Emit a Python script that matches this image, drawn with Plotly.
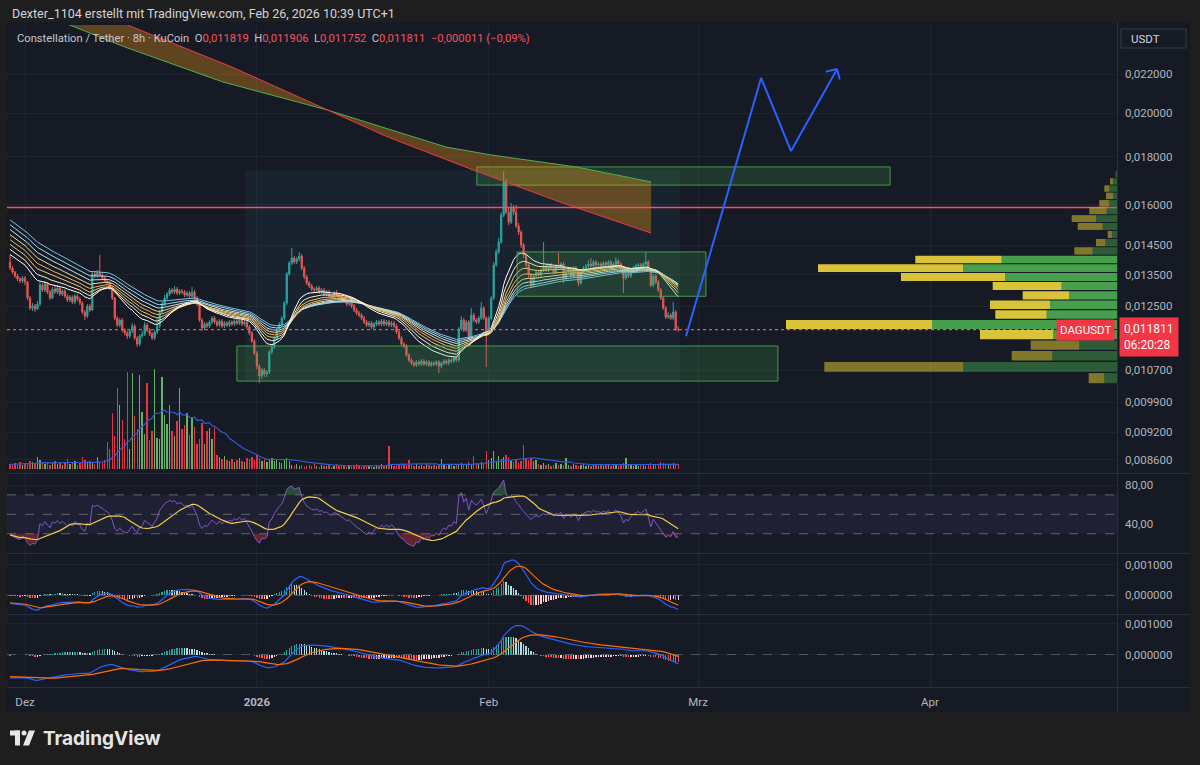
import math
import pandas as pd
import plotly.graph_objects as go

W, H = 1200, 765

# ------------------------------------------------------------------ data
candle_start = "2025-11-29 00:00"
candle_freq = "8h"
first_open = 0.013922

close = [
    0.013721, 0.013588, 0.013456, 0.013359, 0.013294, 0.013391, 0.013261, 0.012754, 0.012447, 0.012508,
    0.012417, 0.012569, 0.013164, 0.013005, 0.013197, 0.012942, 0.012754, 0.013037, 0.012942, 0.013069,
    0.012879, 0.012973, 0.012816, 0.012692, 0.012785, 0.012630, 0.012816, 0.012723, 0.012600, 0.012327,
    0.012206, 0.012508, 0.012387, 0.013522, 0.013456, 0.013555, 0.013489, 0.013391, 0.013294, 0.013229,
    0.013069, 0.012754, 0.012147, 0.011942, 0.012088, 0.011798, 0.011712, 0.011627, 0.011769, 0.011913,
    0.011570, 0.011403, 0.011627, 0.011684, 0.011942, 0.011798, 0.011684, 0.011570, 0.011741, 0.011913,
    0.012327, 0.012569, 0.012754, 0.012879, 0.013005, 0.012942, 0.013037, 0.012910, 0.012973, 0.012942,
    0.012847, 0.012910, 0.012816, 0.012942, 0.012754, 0.012569, 0.012088, 0.011856, 0.011971, 0.011913,
    0.012030, 0.012147, 0.012030, 0.011942, 0.012059, 0.011913, 0.012000, 0.011942, 0.012030, 0.011971,
    0.012059, 0.012000, 0.012088, 0.011971, 0.012030, 0.011884, 0.011712, 0.011486, 0.011155, 0.010808,
    0.010548, 0.010703, 0.010600, 0.010651, 0.011183, 0.011320, 0.011570, 0.011798, 0.011971, 0.012147,
    0.012600, 0.013522, 0.013889, 0.014059, 0.013922, 0.014025, 0.014128, 0.013721, 0.013424, 0.013229,
    0.013132, 0.013037, 0.013005, 0.013069, 0.012942, 0.013005, 0.012879, 0.012942, 0.012816, 0.012785,
    0.012910, 0.012847, 0.012816, 0.012723, 0.012661, 0.012569, 0.012600, 0.012508, 0.012387, 0.012296,
    0.012236, 0.012147, 0.012030, 0.011942, 0.012000, 0.011884, 0.011971, 0.012030, 0.011971, 0.012059,
    0.011971, 0.012030, 0.011942, 0.012000, 0.011913, 0.011741, 0.011570, 0.011403, 0.011347, 0.011101,
    0.010967, 0.010887, 0.010834, 0.010914, 0.010861, 0.010940, 0.010861, 0.010914, 0.010834, 0.010887,
    0.010861, 0.010914, 0.010808, 0.010887, 0.010940, 0.010887, 0.010967, 0.010940, 0.011020, 0.010967,
    0.011827, 0.012088, 0.011798, 0.012030, 0.011570, 0.012236, 0.012088, 0.012030, 0.012147, 0.012447,
    0.012147, 0.011712, 0.012147, 0.012754, 0.013822, 0.014266, 0.014618, 0.015609, 0.016920, 0.015723,
    0.015345, 0.015916, 0.015723, 0.015198, 0.014977, 0.014511, 0.014162, 0.013822, 0.013489, 0.013164,
    0.013456, 0.013588, 0.013489, 0.013654, 0.013788, 0.013654, 0.013822, 0.013721, 0.013588, 0.013788,
    0.013721, 0.013855, 0.013391, 0.013588, 0.013654, 0.013489, 0.013721, 0.013621, 0.013229, 0.013588,
    0.013721, 0.013788, 0.013855, 0.013788, 0.013922, 0.013822, 0.013855, 0.013788, 0.013889, 0.013822,
    0.013922, 0.013788, 0.013855, 0.013956, 0.013855, 0.013721, 0.013391, 0.013522, 0.013456, 0.013621,
    0.013721, 0.013788, 0.013822, 0.013755, 0.013855, 0.013922, 0.013654, 0.013164, 0.013456, 0.013261,
    0.013005, 0.012754, 0.012447, 0.012177, 0.012236, 0.012147, 0.012327, 0.011822, 0.011811,
]

high = [
    0.014162, 0.013788, 0.013621, 0.013522, 0.013424, 0.013456, 0.013456, 0.013294, 0.012816, 0.012600,
    0.012569, 0.012661, 0.013261, 0.013229, 0.013294, 0.013261, 0.013005, 0.013100, 0.013132, 0.013164,
    0.013100, 0.013037, 0.013037, 0.012879, 0.012847, 0.012847, 0.012879, 0.012879, 0.012785, 0.012661,
    0.012387, 0.012569, 0.012569, 0.013588, 0.013621, 0.013654, 0.014162, 0.013555, 0.013456, 0.013359,
    0.013294, 0.013132, 0.012785, 0.012206, 0.012147, 0.012147, 0.011856, 0.011769, 0.011827, 0.012000,
    0.011971, 0.011627, 0.011684, 0.011769, 0.012030, 0.012000, 0.011856, 0.011741, 0.011798, 0.012147,
    0.012387, 0.012630, 0.012847, 0.012942, 0.013069, 0.013069, 0.013132, 0.013100, 0.013037, 0.013037,
    0.013005, 0.012973, 0.012973, 0.013100, 0.013005, 0.012816, 0.012630, 0.012147, 0.012030, 0.012030,
    0.012088, 0.012206, 0.012206, 0.012088, 0.012118, 0.012118, 0.012059, 0.012059, 0.012088, 0.012088,
    0.012118, 0.012118, 0.012147, 0.012147, 0.012088, 0.012088, 0.011942, 0.011769, 0.011542, 0.011210,
    0.010861, 0.010755, 0.010755, 0.010703, 0.011237, 0.011403, 0.011627, 0.011856, 0.012030, 0.012206,
    0.012661, 0.013588, 0.013956, 0.014406, 0.014128, 0.014093, 0.014266, 0.014197, 0.013788, 0.013489,
    0.013294, 0.013197, 0.013100, 0.013132, 0.013132, 0.013069, 0.013069, 0.013005, 0.013005, 0.012879,
    0.012973, 0.013005, 0.012910, 0.012879, 0.012785, 0.012723, 0.012661, 0.012661, 0.012569, 0.012447,
    0.012357, 0.012296, 0.012206, 0.012088, 0.012059, 0.012059, 0.012030, 0.012088, 0.012088, 0.012118,
    0.012118, 0.012088, 0.012088, 0.012059, 0.012059, 0.011971, 0.011798, 0.011627, 0.011458, 0.011403,
    0.011155, 0.011020, 0.010940, 0.010967, 0.010967, 0.010994, 0.010994, 0.010967, 0.010967, 0.010940,
    0.010940, 0.010967, 0.010967, 0.010940, 0.010994, 0.010994, 0.011020, 0.011020, 0.011074, 0.011074,
    0.011884, 0.012206, 0.012147, 0.012088, 0.012088, 0.012447, 0.012296, 0.012147, 0.012206, 0.012630,
    0.012508, 0.012206, 0.012206, 0.012816, 0.013922, 0.014370, 0.014761, 0.015723, 0.017365, 0.017038,
    0.015877, 0.016072, 0.015994, 0.015994, 0.015309, 0.015050, 0.014582, 0.014231, 0.013889, 0.013555,
    0.013522, 0.013654, 0.013654, 0.013721, 0.014618, 0.013855, 0.013889, 0.013889, 0.013788, 0.013855,
    0.014231, 0.013922, 0.013922, 0.013654, 0.013721, 0.013721, 0.013788, 0.013788, 0.013688, 0.013654,
    0.013788, 0.013855, 0.013990, 0.014059, 0.013990, 0.013990, 0.013922, 0.013922, 0.013956, 0.013956,
    0.013990, 0.013990, 0.013922, 0.014093, 0.014025, 0.013922, 0.013788, 0.013588, 0.013588, 0.013688,
    0.013788, 0.013855, 0.013889, 0.013889, 0.013922, 0.014266, 0.013990, 0.013721, 0.013522, 0.013522,
    0.013326, 0.013069, 0.012816, 0.012508, 0.012327, 0.012296, 0.012630, 0.012387, 0.011906,
]

low = [
    0.013654, 0.013522, 0.013391, 0.013294, 0.013229, 0.013229, 0.013164, 0.012692, 0.012387, 0.012357,
    0.012327, 0.012387, 0.012508, 0.012942, 0.012942, 0.012879, 0.012692, 0.012723, 0.012879, 0.012879,
    0.012816, 0.012816, 0.012754, 0.012630, 0.012630, 0.012569, 0.012569, 0.012661, 0.012538, 0.012266,
    0.012088, 0.012147, 0.012327, 0.012357, 0.013391, 0.013391, 0.013424, 0.013326, 0.013229, 0.013164,
    0.013005, 0.012692, 0.012088, 0.011884, 0.011884, 0.011741, 0.011655, 0.011542, 0.011570, 0.011712,
    0.011514, 0.011320, 0.011347, 0.011570, 0.011627, 0.011741, 0.011627, 0.011514, 0.011514, 0.011684,
    0.011856, 0.012266, 0.012508, 0.012692, 0.012816, 0.012879, 0.012879, 0.012847, 0.012847, 0.012879,
    0.012785, 0.012785, 0.012754, 0.012754, 0.012692, 0.012508, 0.012030, 0.011769, 0.011798, 0.011856,
    0.011856, 0.011971, 0.011971, 0.011884, 0.011884, 0.011856, 0.011856, 0.011884, 0.011884, 0.011913,
    0.011913, 0.011942, 0.011942, 0.011913, 0.011913, 0.011827, 0.011655, 0.011431, 0.011101, 0.010729,
    0.010370, 0.010472, 0.010523, 0.010523, 0.010600, 0.011128, 0.011265, 0.011514, 0.011741, 0.011913,
    0.012088, 0.012538, 0.013456, 0.013822, 0.013855, 0.013855, 0.013956, 0.013654, 0.013359, 0.013164,
    0.013069, 0.012973, 0.012942, 0.012942, 0.012879, 0.012879, 0.012816, 0.012816, 0.012754, 0.012723,
    0.012723, 0.012785, 0.012754, 0.012661, 0.012600, 0.012508, 0.012508, 0.012447, 0.012327, 0.012236,
    0.012177, 0.012088, 0.011971, 0.011884, 0.011884, 0.011827, 0.011827, 0.011913, 0.011913, 0.011913,
    0.011913, 0.011913, 0.011884, 0.011884, 0.011856, 0.011684, 0.011514, 0.011347, 0.011292, 0.011047,
    0.010914, 0.010834, 0.010782, 0.010782, 0.010808, 0.010808, 0.010808, 0.010808, 0.010782, 0.010782,
    0.010808, 0.010808, 0.010626, 0.010755, 0.010834, 0.010834, 0.010834, 0.010887, 0.010887, 0.010914,
    0.010914, 0.011769, 0.011741, 0.011741, 0.011514, 0.011514, 0.012030, 0.011971, 0.011971, 0.012088,
    0.012088, 0.010782, 0.011655, 0.012088, 0.012692, 0.013755, 0.014197, 0.014547, 0.015533, 0.015647,
    0.015235, 0.015272, 0.015609, 0.015124, 0.014868, 0.014406, 0.014059, 0.013721, 0.013391, 0.013069,
    0.013100, 0.013391, 0.013424, 0.013424, 0.013588, 0.013588, 0.013588, 0.013654, 0.013522, 0.013522,
    0.013654, 0.013654, 0.013229, 0.013326, 0.013522, 0.013424, 0.013424, 0.013555, 0.013132, 0.013164,
    0.013522, 0.013654, 0.013721, 0.013721, 0.013721, 0.013755, 0.013755, 0.013721, 0.013721, 0.013755,
    0.013755, 0.013721, 0.013721, 0.013788, 0.013788, 0.013654, 0.012910, 0.013326, 0.013391, 0.013391,
    0.013555, 0.013654, 0.013721, 0.013688, 0.013688, 0.013788, 0.013588, 0.013100, 0.013100, 0.013197,
    0.012942, 0.012692, 0.012387, 0.012118, 0.012118, 0.012088, 0.012088, 0.011769, 0.011752,
]

volume = [
    5, 4, 6, 5, 7, 4, 5, 6, 8, 7, 5, 12, 9, 6, 5, 7, 4, 6, 8, 5, 6, 4, 7, 10, 5, 6, 8, 4, 6, 12,
    9, 7, 8, 6, 5, 12, 7, 6, 9,
    27, 20, 56, 33, 81, 64, 49, 30, 97, 20, 96, 53, 40, 94, 57, 35, 86, 29, 38, 100,
    31, 30, 92, 54, 45, 64, 38, 33, 48, 81, 40, 44, 56, 34, 51, 42, 25, 30, 46, 25,
    38, 41, 30, 41, 14, 12, 10, 13, 9, 8, 10, 7, 9, 11, 8, 7, 11,
    10, 12, 9, 14, 11, 8, 10, 7, 9, 11, 8, 10, 7, 6, 9, 11, 8,
    4, 3, 5, 3, 4, 2, 3, 4, 3, 5, 3, 2, 4, 3, 3, 4, 2, 3, 5, 3,
    4, 3, 2, 4, 3, 3, 5, 4, 2, 3, 4, 3, 3, 2, 4, 3, 5, 3, 4,
    23, 4, 3, 5, 4, 6, 5, 4, 9, 4, 3, 5, 3, 4, 3, 5, 4, 3, 4, 3, 5, 10,
    4, 3, 5, 4, 3, 5, 4, 6, 5, 4, 7, 5, 13, 6, 5, 7, 6, 18, 9, 11, 18, 8, 13, 10, 12, 14, 12,
    8, 7, 9, 6, 8, 24, 10, 9, 11, 8, 9,
    5, 4, 6, 4, 5, 3, 4, 6, 4, 5, 4, 11,
    4, 3, 5, 4, 3, 4, 5, 3, 4, 3, 5, 4, 3, 4, 3, 5, 4, 3, 4, 5, 3, 4, 6, 11,
    4, 5, 3, 4, 3, 4, 5, 3, 4, 6, 5, 4, 5, 7, 6, 5, 4, 5, 6, 4, 5,
]

ribbon_lengths = [20, 25, 30, 35, 40, 45, 50, 55]
ribbon_start = [0.01423, 0.01441, 0.01459, 0.01476, 0.01494, 0.01513, 0.01531, 0.01549]
vol_ma_len = 20
rsi_len = 14
rsi_ma_len = 14
rsi_start_gain_loss = [0.000055, 0.000120]
macd1_periods = [12, 26, 9]
macd1_start = [0.01400, 0.01426, -0.00024]
macd2_periods = [24, 52, 18]
macd2_start = [0.01420, 0.01497, -0.00072]

# visible-range volume profile (24 rows)
profile_low = 0.01035
profile_row = 0.000293
profile_up = [12.7, 153.7, 64.7, 37.7, 63.7, 185, 70.3, 67, 47.7, 55.3, 112, 154,
              115.3, 24.3, 11.7, 5, 14.3, 21, 10.3, 7.7, 4, 7.7, 4, 1.5]
profile_down = [15.6, 139, 40.6, 48.6, 73.3, 146, 51.4, 60, 46.6, 69, 104, 145,
                86.4, 18.4, 9.3, 4.3, 25, 24.3, 17.4, 10, 7, 5, 3, 0]
value_area_rows = [4, 12]

# drawings
level_price = 0.0159
shade_dates = ["2025-12-30 10:00", "2026-02-26 14:00"]
shade_prices = [0.01042, 0.01742]
box_top_dates = ["2026-01-30 10:00", "2026-03-26 16:00"]
box_top_prices = [0.01679, 0.01755]
box_mid_dates = ["2026-02-04 19:00", "2026-03-02 01:00"]
box_mid_prices = [0.01281, 0.01427]
box_low_dates = ["2025-12-29 08:00", "2026-03-11 16:00"]
box_low_prices = [0.01042, 0.01135]
wedge_green_dates = ["2025-12-05 00:00", "2025-12-14 08:00", "2025-12-27 11:00", "2026-01-10 12:00",
                     "2026-01-26 07:00", "2026-02-01 07:00", "2026-02-12 16:00", "2026-02-22 17:00"]
wedge_green_prices = [0.02515, 0.02350, 0.02158, 0.02015, 0.01842, 0.01807, 0.01755, 0.01692]
wedge_red_dates = ["2025-12-11 01:00", "2025-12-14 09:00", "2025-12-28 16:00", "2026-01-10 12:00",
                   "2026-01-18 13:00", "2026-01-29 22:00", "2026-02-10 13:00", "2026-02-22 17:00"]
wedge_red_prices = [0.02552, 0.02485, 0.02238, 0.02015, 0.01887, 0.01742, 0.01611, 0.01494]
proj_dates = ["2026-02-27 09:00", "2026-03-09 10:00", "2026-03-13 10:00", "2026-03-19 14:00"]
proj_prices = [0.01162, 0.02179, 0.01824, 0.02227]

price_ticks = [0.0086, 0.0092, 0.0099, 0.0107, 0.0125, 0.0135, 0.0145, 0.016, 0.018, 0.020, 0.022]
month_ticks = ["2025-12-01", "2026-01-01", "2026-02-01", "2026-03-01", "2026-04-01"]
month_labels = ["Dez", "<b>2026</b>", "Feb", "Mrz", "Apr"]
x_range = ["2025-11-28 14:15", "2026-04-26 00:00"]
legend_ohlc = ["0,011819", "0,011906", "0,011752", "0,011811", "−0,000011 (−0,09%)"]
countdown = "06:20:28"

# ------------------------------------------------------------------ helpers
def fx(px):
    return px / W


def fy(py):
    return 1 - py / H


def de(v):
    return v.replace(".", ",")


def ema(vals, length, seed):
    a = 2.0 / (length + 1)
    e = seed
    out = []
    for v in vals:
        e = e + a * (v - e)
        out.append(e)
    return out


def rsi_calc(vals, prev, length, g0, l0):
    ag, al = g0, l0
    out = []
    for v in vals:
        ch = v - prev
        prev = v
        ag = (ag * (length - 1) + max(ch, 0.0)) / length
        al = (al * (length - 1) + max(-ch, 0.0)) / length
        out.append(100.0 - 100.0 / (1.0 + ag / al) if al > 0 else 100.0)
    return out


def macd_calc(vals, periods, start):
    f = ema(vals, periods[0], start[0])
    s = ema(vals, periods[1], start[1])
    m = [a - b for a, b in zip(f, s)]
    sig = ema(m, periods[2], start[2])
    hist = [a - b for a, b in zip(m, sig)]
    return m, sig, hist


def hist_colors(hist):
    cols = []
    prev = 0.0
    for h in hist:
        if h >= 0:
            cols.append("#26a69a" if h >= prev else "#b2dfdb")
        else:
            cols.append("#ff5252" if h <= prev else "#ffcdd2")
        prev = h
    return cols


n = len(close)
times = pd.date_range(candle_start, periods=n, freq=candle_freq)
opens = [first_open] + close[:-1]
bar_w = 8 * 3600 * 1000 * 0.55

BG_OUT = "#1e1e1e"
BG_PANEL = "#161a25"
GRID = "#1f2431"
SEP = "#2a2e39"
TXT = "#b2b5be"
RED = "#f23645"
FONT = "Roboto"

fig = go.Figure()

# ------------------------------------------------------------------ main pane drawings (behind)
def rect_xy(dates, prices):
    d0, d1 = dates
    p0, p1 = prices
    return [d0, d1, d1, d0, d0], [p0, p0, p1, p1, p0]


sx, sy = rect_xy(shade_dates, shade_prices)
fig.add_trace(go.Scatter(x=sx, y=sy, fill="toself", fillcolor="rgba(90,170,220,0.06)",
                         line=dict(width=0), mode="lines", hoverinfo="skip", showlegend=False))

# candles
fig.add_trace(go.Candlestick(
    x=times, open=opens, high=high, low=low, close=close,
    increasing=dict(line=dict(color="#26a69a", width=1), fillcolor="#26a69a"),
    decreasing=dict(line=dict(color="#ef5350", width=1), fillcolor="#ef5350"),
    whiskerwidth=0, hoverinfo="skip", showlegend=False))

# EMA ribbon
ribbon_colors = ["#ffffff", "#fff0c2", "#f7c873", "#f2b65a", "#e9dca6", "#c4e7ee", "#9fd7ea", "#7cc4e4"]
for length, seed, col in reversed(list(zip(ribbon_lengths, ribbon_start, ribbon_colors))):
    fig.add_trace(go.Scatter(x=times, y=ema(close, length, seed), mode="lines",
                             line=dict(color=col, width=1), hoverinfo="skip", showlegend=False))

# zone boxes
for dts, prs in [(box_low_dates, box_low_prices), (box_mid_dates, box_mid_prices), (box_top_dates, box_top_prices)]:
    bx, by = rect_xy(dts, prs)
    fig.add_trace(go.Scatter(x=bx, y=by, fill="toself", fillcolor="rgba(76,175,80,0.2)",
                             line=dict(color="rgba(76,175,80,0.85)", width=1), mode="lines",
                             hoverinfo="skip", showlegend=False))

# wedge
fig.add_trace(go.Scatter(x=wedge_green_dates + wedge_red_dates[::-1],
                         y=wedge_green_prices + wedge_red_prices[::-1],
                         fill="toself", fillcolor="rgba(255,160,20,0.32)", line=dict(width=0),
                         mode="lines", hoverinfo="skip", showlegend=False))
fig.add_trace(go.Scatter(x=wedge_green_dates, y=wedge_green_prices, mode="lines",
                         line=dict(color="#4caf50", width=1), hoverinfo="skip", showlegend=False))
fig.add_trace(go.Scatter(x=wedge_red_dates, y=wedge_red_prices, mode="lines",
                         line=dict(color=RED, width=1), hoverinfo="skip", showlegend=False))

# level line and last-price line
fig.add_trace(go.Scatter(x=x_range, y=[level_price, level_price], mode="lines",
                         line=dict(color="#ff4d5e", width=1.4), hoverinfo="skip", showlegend=False))
fig.add_trace(go.Scatter(x=x_range, y=[close[-1], close[-1]], mode="lines",
                         line=dict(color="#ff4d5e", width=1.3, dash="dot"), hoverinfo="skip", showlegend=False))

# projection path
fig.add_trace(go.Scatter(x=proj_dates, y=proj_prices, mode="lines",
                         line=dict(color="#2962ff", width=2), hoverinfo="skip", showlegend=False))

# volume (overlay axis y5)
vol_cols = ["rgba(102,187,106,0.95)" if c >= o else "rgba(242,54,69,0.95)" for o, c in zip(opens, close)]
fig.add_trace(go.Bar(x=times, y=volume, marker=dict(color=vol_cols, line=dict(width=0)), width=bar_w,
                     xaxis="x", yaxis="y5", hoverinfo="skip", showlegend=False))
vol_ma = pd.Series(volume).rolling(vol_ma_len, min_periods=1).mean().tolist()
fig.add_trace(go.Scatter(x=times, y=vol_ma, mode="lines", line=dict(color="#2f5bd8", width=1.2),
                         xaxis="x", yaxis="y5", hoverinfo="skip", showlegend=False))

# volume profile (overlay axis x5)
for k, (up, dn) in enumerate(zip(profile_up, profile_down)):
    lo = profile_low + k * profile_row + profile_row * 0.06
    hi = profile_low + (k + 1) * profile_row - profile_row * 0.06
    bright = value_area_rows[0] <= k <= value_area_rows[1]
    gcol = "rgba(76,170,80,0.92)" if bright else "rgba(66,150,72,0.55)"
    ycol = "rgba(228,206,58,0.95)" if bright else "rgba(200,180,50,0.6)"
    if up > 0:
        fig.add_trace(go.Scatter(x=[0, up, up, 0, 0], y=[lo, lo, hi, hi, lo], fill="toself",
                                 fillcolor=gcol, line=dict(width=0), mode="lines",
                                 xaxis="x5", yaxis="y", hoverinfo="skip", showlegend=False))
    if dn > 0:
        fig.add_trace(go.Scatter(x=[up, up + dn, up + dn, up, up], y=[lo, lo, hi, hi, lo], fill="toself",
                                 fillcolor=ycol, line=dict(width=0), mode="lines",
                                 xaxis="x5", yaxis="y", hoverinfo="skip", showlegend=False))

# ------------------------------------------------------------------ RSI pane
rsi = rsi_calc(close, first_open, rsi_len, rsi_start_gain_loss[0], rsi_start_gain_loss[1])
rsi_ma = pd.Series(rsi).rolling(rsi_ma_len, min_periods=1).mean().tolist()
over = [max(v, 70) for v in rsi]
under = [min(v, 30) for v in rsi]
common2 = dict(xaxis="x2", yaxis="y2", hoverinfo="skip", showlegend=False, mode="lines")
fig.add_trace(go.Scatter(x=times, y=[70] * n, line=dict(width=0), **common2))
fig.add_trace(go.Scatter(x=times, y=over, fill="tonexty", fillcolor="rgba(76,175,80,0.35)",
                         line=dict(width=0), **common2))
fig.add_trace(go.Scatter(x=times, y=[30] * n, line=dict(width=0), **common2))
fig.add_trace(go.Scatter(x=times, y=under, fill="tonexty", fillcolor="rgba(242,54,69,0.35)",
                         line=dict(width=0), **common2))
fig.add_trace(go.Scatter(x=times, y=rsi, line=dict(color="#7e57c2", width=1), **common2))
fig.add_trace(go.Scatter(x=times, y=rsi_ma, line=dict(color="#f2cf46", width=1.2), **common2))

# ------------------------------------------------------------------ MACD panes
for periods, start, xa, ya in [(macd1_periods, macd1_start, "x3", "y3"), (macd2_periods, macd2_start, "x4", "y4")]:
    m, sig, hist = macd_calc(close, periods, start)
    fig.add_trace(go.Bar(x=times, y=hist, marker=dict(color=hist_colors(hist), line=dict(width=0)),
                         width=bar_w, xaxis=xa, yaxis=ya, hoverinfo="skip", showlegend=False))
    fig.add_trace(go.Scatter(x=times, y=m, mode="lines", line=dict(color="#2962ff", width=1.2),
                             xaxis=xa, yaxis=ya, hoverinfo="skip", showlegend=False))
    fig.add_trace(go.Scatter(x=times, y=sig, mode="lines", line=dict(color="#ff6d00", width=1.2),
                             xaxis=xa, yaxis=ya, hoverinfo="skip", showlegend=False))

# ------------------------------------------------------------------ layout
X_DOM = [fx(7), fx(1117)]
xcommon = dict(domain=X_DOM, range=x_range, type="date", showgrid=True, gridcolor=GRID, gridwidth=1,
               tickmode="array", tickvals=month_ticks, ticktext=month_labels, showticklabels=False,
               zeroline=False, showline=False, ticks="", fixedrange=True)
ycommon = dict(side="right", showgrid=True, gridcolor=GRID, gridwidth=1, zeroline=False, showline=False,
               ticks="", tickfont=dict(family=FONT, size=11.5, color=TXT), ticklabelstandoff=7,
               fixedrange=True, tickmode="array")

price_range = [math.log10(0.008332), math.log10(0.02479)]

layout = dict(
    width=W, height=H, margin=dict(l=0, r=0, t=0, b=0),
    paper_bgcolor=BG_OUT, plot_bgcolor="rgba(0,0,0,0)",
    font=dict(family=FONT, color=TXT), showlegend=False, bargap=0, hovermode=False,
    xaxis=dict(xcommon, anchor="y", rangeslider=dict(visible=False)),
    xaxis2=dict(xcommon, anchor="y2", matches="x"),
    xaxis3=dict(xcommon, anchor="y3", matches="x"),
    xaxis4=dict(xcommon, anchor="y4", matches="x", showticklabels=True,
                tickfont=dict(family=FONT, size=11.5, color=TXT), ticklabelstandoff=6),
    xaxis5=dict(overlaying="x", anchor="y", range=[1110, 0], visible=False, fixedrange=True),
    yaxis=dict(ycommon, anchor="x", type="log", range=price_range, domain=[fy(473), fy(25)],
               tickvals=price_ticks, ticktext=[de(f"{v:.6f}") for v in price_ticks]),
    yaxis5=dict(overlaying="y", anchor="x", range=[-4, 444], visible=False, fixedrange=True),
    yaxis2=dict(ycommon, anchor="x2", range=[10.2, 91.5], domain=[fy(553), fy(474)],
                tickvals=[40, 80], ticktext=["40,00", "80,00"]),
    yaxis3=dict(ycommon, anchor="x3", range=[-0.000613, 0.001355], domain=[fy(614), fy(554)],
                tickvals=[0, 0.001], ticktext=["0,000000", "0,001000"]),
    yaxis4=dict(ycommon, anchor="x4", range=[-0.00106, 0.00129], domain=[fy(687), fy(615)],
                tickvals=[0, 0.001], ticktext=["0,000000", "0,001000"]),
)
fig.update_layout(**layout)

shapes = []
# chart panel background
shapes.append(dict(type="rect", xref="paper", yref="paper", x0=fx(7), x1=fx(1190), y0=fy(712), y1=fy(22),
                   fillcolor=BG_PANEL, line=dict(width=0), layer="below"))
# RSI band and guide lines
shapes.append(dict(type="rect", xref="x2 domain", yref="y2", x0=0, x1=1, y0=30, y1=70,
                   fillcolor="rgba(126,87,194,0.1)", line=dict(width=0), layer="below"))
for lvl in (70, 50, 30):
    shapes.append(dict(type="line", xref="x2 domain", yref="y2", x0=0, x1=1, y0=lvl, y1=lvl,
                       line=dict(color="rgba(120,123,134,0.75)", width=1, dash="dash")))
for ya, xa in (("y3", "x3"), ("y4", "x4")):
    shapes.append(dict(type="line", xref=xa + " domain", yref=ya, x0=0, x1=1, y0=0, y1=0,
                       line=dict(color="rgba(120,123,134,0.6)", width=1, dash="dash")))
# pane separators
for yy in (473.5, 553.5, 614.5, 687.5):
    shapes.append(dict(type="line", xref="paper", yref="paper", x0=fx(7), x1=fx(1190), y0=fy(yy), y1=fy(yy),
                       line=dict(color=SEP, width=1)))
shapes.append(dict(type="line", xref="paper", yref="paper", x0=fx(1117.5), x1=fx(1117.5), y0=fy(712), y1=fy(22),
                   line=dict(color=SEP, width=1)))
# USDT button
shapes.append(dict(type="rect", xref="paper", yref="paper", x0=fx(1121), x1=fx(1186), y0=fy(48), y1=fy(29),
                   fillcolor=BG_PANEL, line=dict(color="#363a45", width=1)))
# TradingView logo glyph
shapes.append(dict(type="rect", xref="paper", yref="paper", x0=fx(10), x1=fx(20), y0=fy(735.5), y1=fy(730.5),
                   fillcolor="#e6e6e6", line=dict(width=0)))
shapes.append(dict(type="rect", xref="paper", yref="paper", x0=fx(15), x1=fx(20), y0=fy(745.5), y1=fy(730.5),
                   fillcolor="#e6e6e6", line=dict(width=0)))
shapes.append(dict(type="circle", xref="paper", yref="paper", x0=fx(21.5), x1=fx(26.5), y0=fy(735.5), y1=fy(730.5),
                   fillcolor="#e6e6e6", line=dict(width=0)))
shapes.append(dict(type="path", xref="paper", yref="paper",
                   path=f"M {fx(29)},{fy(730.5)} L {fx(35)},{fy(730.5)} L {fx(29)},{fy(745.5)} L {fx(23)},{fy(745.5)} Z",
                   fillcolor="#e6e6e6", line=dict(width=0)))
fig.update_layout(shapes=shapes)

last = close[-1]
annotations = [
    dict(xref="paper", yref="paper", x=fx(10), y=fy(13), xanchor="left", yanchor="middle", showarrow=False,
         text="Dexter_1104 erstellt mit TradingView.com, Feb 26, 2026 10:39 UTC+1",
         font=dict(family=FONT, size=12.5, color="#d1d4dc")),
    dict(xref="paper", yref="paper", x=fx(15), y=fy(38), xanchor="left", yanchor="middle", showarrow=False,
         text=("Constellation / Tether · 8h · KuCoin  "
               f"O<span style='color:#f7525f'>{legend_ohlc[0]}</span>  "
               f"H<span style='color:#f7525f'>{legend_ohlc[1]}</span>  "
               f"L<span style='color:#f7525f'>{legend_ohlc[2]}</span>  "
               f"C<span style='color:#f7525f'>{legend_ohlc[3]}</span>  "
               f"<span style='color:#f7525f'>{legend_ohlc[4]}</span>"),
         font=dict(family=FONT, size=11.2, color="#c3c6ce")),
    dict(xref="paper", yref="paper", x=fx(1129), y=fy(38.5), xanchor="left", yanchor="middle", showarrow=False,
         text="USDT", font=dict(family=FONT, size=11.5, color="#d1d4dc")),
    dict(xref="paper", yref="y", x=fx(1115), y=math.log10(last), xanchor="right", yanchor="middle",
         showarrow=False, text="DAGUSDT", bgcolor=RED, borderpad=3,
         font=dict(family=FONT, size=11.5, color="#ffffff")),
    dict(xref="paper", yref="y", x=fx(1118.5), y=math.log10(last), xanchor="left", yanchor="middle", yshift=-7,
         showarrow=False, text=f"{de(f'{last:.6f}')}<br>{countdown}", bgcolor=RED, borderpad=4, align="left",
         font=dict(family=FONT, size=12, color="#ffffff")),
    dict(xref="paper", yref="paper", x=fx(41), y=fy(738), xanchor="left", yanchor="middle", showarrow=False,
         text="<b>TradingView</b>", font=dict(family="Inter", size=19, color="#e6e6e6")),
]
for axx, ayy in ((-13, 3), (3, 12)):
    annotations.append(dict(xref="x", yref="y", x=proj_dates[-1], y=math.log10(proj_prices[-1]),
                            ax=axx, ay=ayy, text="", showarrow=True, arrowhead=0, arrowwidth=2,
                            arrowcolor="#2962ff"))
fig.update_layout(annotations=annotations)

fig.write_html("out.html", config={"displayModeBar": False, "staticPlot": True},
               post_script="document.body.style.margin='0';document.body.style.background='#1e1e1e';"
                           "document.body.style.overflow='hidden';")
